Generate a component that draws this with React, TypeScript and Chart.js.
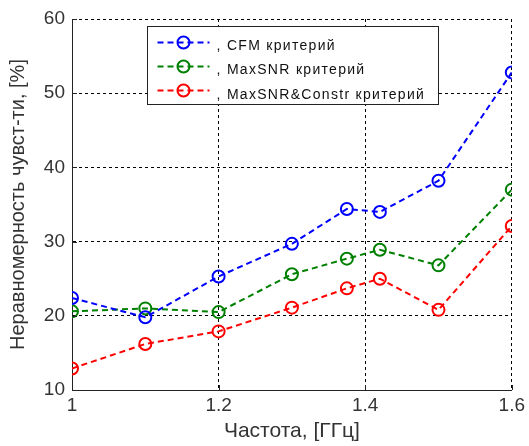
import React, { useEffect, useRef } from "react";
import { Chart, registerables, type Plugin } from "chart.js";

Chart.register(...registerables);

// frequency points, GHz
const freqs = [1, 1.1, 1.2, 1.3, 1.375, 1.42, 1.5, 1.6];

const cfmValues = [22.4, 19.8, 25.3, 29.7, 34.4, 34.0, 38.2, 52.8];
const maxSnrValues = [20.6, 21.0, 20.5, 25.6, 27.7, 28.9, 26.8, 37.0];
const constrValues = [12.9, 16.2, 17.9, 21.1, 23.7, 25.0, 20.8, 32.1];

const seriesNames = [", CFM критерий", ", MaxSNR критерий", ", MaxSNR&Constr критерий"];
const seriesColors = ["#0000ff", "#008000", "#ff0000"];

const xTicks = [1, 1.2, 1.4, 1.6];
const yTicks = [10, 20, 30, 40, 50, 60];

const FONT = '"Liberation Sans", Arial, sans-serif';
const TEXT = "#333";

// MATLAB-like ticks pointing into the plot
const innerTicks: Plugin<"line"> = {
  id: "innerTicks",
  afterDraw(chart) {
    const { ctx, chartArea, scales } = chart;
    ctx.save();
    ctx.strokeStyle = "#222";
    ctx.lineWidth = 1;
    ctx.setLineDash([]);
    xTicks.forEach((v) => {
      const px = Math.round(scales.x.getPixelForValue(v)) + 0.5;
      ctx.beginPath();
      ctx.moveTo(px, chartArea.bottom);
      ctx.lineTo(px, chartArea.bottom - 5);
      ctx.stroke();
    });
    yTicks.forEach((v) => {
      const py = Math.round(scales.y.getPixelForValue(v)) + 0.5;
      ctx.beginPath();
      ctx.moveTo(chartArea.left, py);
      ctx.lineTo(chartArea.left + 5, py);
      ctx.stroke();
    });
    ctx.restore();
  },
};

const boxLegend: Plugin<"line"> = {
  id: "boxLegend",
  afterDraw(chart) {
    const { ctx, chartArea } = chart;
    const x0 = Math.round(chartArea.left + 75) + 0.5;
    const y0 = Math.round(chartArea.top + 7) + 0.5;
    const w = 291;
    const h = 78;
    ctx.save();
    ctx.fillStyle = "#fff";
    ctx.fillRect(x0, y0, w, h);
    ctx.strokeStyle = "#222";
    ctx.lineWidth = 1;
    ctx.strokeRect(x0, y0, w, h);
    ctx.font = `14px ${FONT}`;
    (ctx as any).letterSpacing = "1.3px";
    ctx.textBaseline = "alphabetic";
    seriesNames.forEach((name, i) => {
      const cy = y0 + 16 + i * 24;
      ctx.strokeStyle = seriesColors[i];
      ctx.lineWidth = 2;
      ctx.setLineDash([6, 4]);
      ctx.beginPath();
      ctx.moveTo(x0 + 10, cy);
      ctx.lineTo(x0 + 62, cy);
      ctx.stroke();
      ctx.setLineDash([]);
      ctx.beginPath();
      ctx.arc(x0 + 36, cy, 6, 0, Math.PI * 2);
      ctx.stroke();
      ctx.fillStyle = "#111";
      ctx.fillText(name, x0 + 69, y0 + 23 + i * 24.5);
    });
    ctx.restore();
  },
};

const App: React.FC = () => {
  const canvasRef = useRef<HTMLCanvasElement>(null);
  const chartRef = useRef<Chart | null>(null);

  useEffect(() => {
    document.body.style.margin = "0";
    document.body.style.background = "#fff";
    if (!canvasRef.current) return;

    const toPoints = (vals: number[]) => vals.map((y, i) => ({ x: freqs[i], y }));
    const allValues = [cfmValues, maxSnrValues, constrValues];

    chartRef.current = new Chart(canvasRef.current, {
      type: "line",
      data: {
        datasets: allValues.map((vals, i) => ({
          label: seriesNames[i],
          data: toPoints(vals),
          borderColor: seriesColors[i],
          borderWidth: 2,
          borderDash: [6, 4],
          pointRadius: 6,
          pointBorderWidth: 2,
          pointBackgroundColor: "rgba(0,0,0,0)",
          pointBorderColor: seriesColors[i],
          tension: 0,
          fill: false,
        })),
      },
      options: {
        responsive: false,
        animation: false,
        layout: { padding: { top: 19, right: 16, left: 0, bottom: 0 } },
        plugins: {
          legend: { display: false },
          tooltip: { enabled: false },
        },
        scales: {
          x: {
            type: "linear",
            min: 1,
            max: 1.6,
            afterFit: (s) => {
              s.height = 56;
            },
            afterBuildTicks: (s) => {
              s.ticks = xTicks.map((value) => ({ value }));
            },
            ticks: {
              color: TEXT,
              font: { family: FONT, size: 19 },
              padding: 4,
              callback: (v) => String(Math.round(Number(v) * 10) / 10),
            },
            grid: { color: "#000", lineWidth: 1, drawTicks: false },
            border: { display: true, color: "#222", width: 1, dash: [3, 3] },
            title: {
              display: true,
              text: "Частота, [ГГц]",
              color: TEXT,
              font: { family: FONT, size: 21 },
              padding: { top: 0, bottom: 2 },
            },
          },
          y: {
            min: 10,
            max: 60,
            afterFit: (s) => {
              s.width = 72;
            },
            afterBuildTicks: (s) => {
              s.ticks = yTicks.map((value) => ({ value }));
            },
            ticks: {
              color: TEXT,
              font: { family: FONT, size: 19 },
              padding: 7,
            },
            grid: { color: "#000", lineWidth: 1, drawTicks: false },
            border: { display: true, color: "#222", width: 1, dash: [3, 3] },
            title: {
              display: true,
              text: "Неравномерность чувст-ти, [%]",
              color: TEXT,
              font: { family: FONT, size: 20 },
              padding: { top: 6, bottom: 0 },
            },
          },
        },
      },
      plugins: [innerTicks, boxLegend],
    });

    return () => {
      chartRef.current?.destroy();
      chartRef.current = null;
    };
  }, []);

  return (
    <div style={{ width: 529, height: 446, background: "#fff" }}>
      <canvas ref={canvasRef} width={529} height={446}></canvas>
    </div>
  );
};

export default App;
